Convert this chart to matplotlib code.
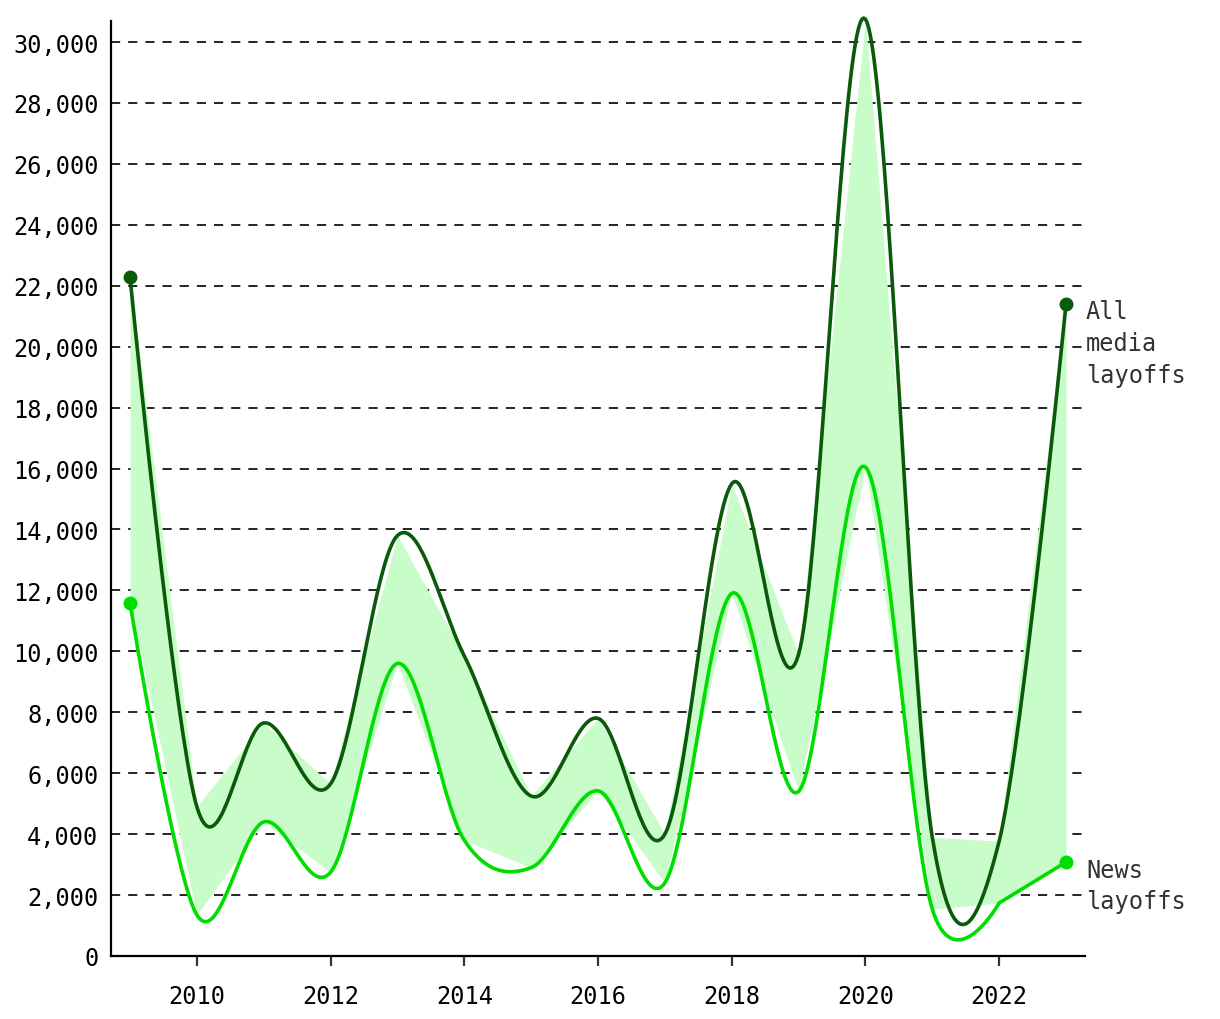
import numpy as np
import matplotlib
matplotlib.use("Agg")
import matplotlib.pyplot as plt

# yearly layoff counts
years = [2009, 2010, 2011, 2012, 2013, 2014, 2015, 2016,
         2017, 2018, 2019, 2020, 2021, 2022, 2023]
all_media = [22300, 4900, 7650, 5650, 13800, 9850, 5250, 7800,
             4000, 15500, 9900, 30750, 3900, 3770, 21400]
news = [11600, 1350, 4400, 2750, 9600, 3800, 2900, 5420,
        2400, 11900, 5400, 16050, 1540, 1740, 3080]

yticks = list(range(0, 30001, 2000))
xticks = [2010, 2012, 2014, 2016, 2018, 2020, 2022]

dark = "#0a5a0a"
bright = "#00dd00"
fill_col = "#c8fcc8"
mono = "DejaVu Sans Mono"


def cardinal(x, y, n=40):
    # cardinal spline (tension 0) drawn as cubic beziers, flat controls at the ends
    p = np.column_stack([np.asarray(x, float), np.asarray(y, float)])
    k = len(p)
    out = []
    for i in range(k - 1):
        prev = p[i + 1] if i == 0 else p[i - 1]
        nxt = p[i] if i == k - 2 else p[i + 2]
        c1 = p[i] + (p[i + 1] - prev) / 6
        c2 = p[i + 1] - (nxt - p[i]) / 6
        t = np.linspace(0, 1, n, endpoint=(i == k - 2))[:, None]
        seg = ((1 - t)**3 * p[i] + 3 * (1 - t)**2 * t * c1
               + 3 * (1 - t) * t**2 * c2 + t**3 * p[i + 1])
        out.append(seg)
    out = np.vstack(out)
    return out[:, 0], out[:, 1]


fig = plt.figure(figsize=(12.2, 10.2), dpi=100)
ax = fig.add_axes([111 / 1220, 1 - 957 / 1020, (1085 - 111) / 1220, (957 - 22) / 1020])

ax.fill_between(years, news, all_media, color=fill_col, lw=0, zorder=1)

for yv in yticks[1:]:
    ax.axhline(yv, color="black", lw=1.2, ls=(0, (5.5, 4.8)), zorder=0.5)

sx, sy = cardinal(years, all_media)
ax.plot(sx, sy, color=dark, lw=2.6, zorder=3, clip_on=False, solid_capstyle="round")

# news: smooth up to 2022, straight segment to 2023
nx, ny = cardinal(years[:-1], news[:-1])
nx = np.append(nx, years[-1])
ny = np.append(ny, news[-1])
ax.plot(nx, ny, color=bright, lw=2.6, zorder=3, clip_on=False, solid_capstyle="round")

ax.plot([years[0], years[-1]], [all_media[0], all_media[-1]], "o",
        color=dark, ms=9, zorder=4, clip_on=False)
ax.plot([years[0], years[-1]], [news[0], news[-1]], "o",
        color=bright, ms=9, zorder=4, clip_on=False)

ax.text(2023.3, all_media[-1] + 150, "All\nmedia\nlayoffs", va="top", ha="left",
        family=mono, fontsize=17, color="#333333", linespacing=1.4)
ax.text(2023.3, news[-1] + 150, "News\nlayoffs", va="top", ha="left",
        family=mono, fontsize=17, color="#333333", linespacing=1.4)

ax.set_xlim(2008.716, 2023.284)
ax.set_ylim(0, 30690)
ax.set_yticks(yticks)
ax.set_yticklabels([f"{v:,}" for v in yticks])
ax.set_xticks(xticks)
ax.set_xticklabels([str(v) for v in xticks])

for s in ["top", "right"]:
    ax.spines[s].set_visible(False)
for s in ["left", "bottom"]:
    ax.spines[s].set_linewidth(1.6)

ax.tick_params(axis="y", length=0, pad=9, labelsize=17)
ax.tick_params(axis="x", length=7, width=1.6, color="#333333", pad=13, labelsize=17)
for lab in ax.get_xticklabels() + ax.get_yticklabels():
    lab.set_family(mono)

fig.savefig("out.png", dpi=100)
